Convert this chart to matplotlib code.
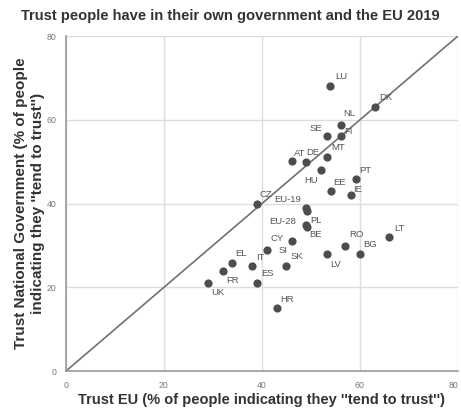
import matplotlib
matplotlib.use("Agg")
import matplotlib.pyplot as plt
import matplotlib.transforms as mtransforms

plt.rcParams['font.family'] = ['Liberation Sans', 'DejaVu Sans']

# country codes, trust in EU (x), trust in national government (y)
labels = ['LU', 'DK', 'NL', 'FI', 'SE', 'MT', 'DE', 'AT', 'HU', 'PT',
          'EE', 'IE', 'CZ', 'EU-19', 'EU-28', 'PL', 'BE', 'CY', 'SI', 'SK',
          'IT', 'EL', 'FR', 'UK', 'ES', 'HR', 'LV', 'RO', 'BG', 'LT']
trust_eu = [53.9, 63.1, 56.1, 56.1, 53.2, 53.2, 49.1, 46.1, 52.0, 59.2,
            54.1, 58.1, 39.0, 49.0, 49.2, 49.1, 49.3, 46.2, 41.1, 45.0,
            38.0, 34.0, 32.1, 29.1, 39.1, 43.1, 53.2, 57.0, 60.1, 66.0]
trust_gov = [68.0, 63.0, 58.9, 56.1, 56.1, 51.1, 50.0, 50.1, 48.1, 46.0,
             43.0, 42.0, 40.0, 39.0, 38.3, 35.0, 34.3, 31.1, 28.9, 25.1,
             25.1, 25.9, 23.9, 21.0, 21.0, 15.0, 27.9, 29.9, 27.9, 32.0]

# label placement (pixels from the dot)
offsets = [(11, 10), (11, 10), (9, 11), (8, 5), (-11, 8), (12, 10), (6, 9),
           (8, 8), (-10, -11), (9, 8), (9, 9), (7, 6), (9, 9), (-18, 8),
           (-24, -11), (10, 4), (8, -7), (-15, 2), (16, 0), (11, 10),
           (8, 9), (9, 9), (9, -9), (9, -9), (10, 10), (10, 9), (9, -10),
           (11, 11), (10, 10), (10, 9)]

fig = plt.figure(figsize=(4.61, 4.16), dpi=100)
ax = fig.add_axes([0.143, 0.108, 0.85, 0.805])

ax.plot([0, 80], [0, 80], color='#707070', lw=1.2, zorder=2)
ax.scatter(trust_eu, trust_gov, s=24, color='#4d4d4d', zorder=3)

for lab, x, y, off in zip(labels, trust_eu, trust_gov, offsets):
    ax.annotate(lab, (x, y), xytext=off, textcoords='offset pixels',
                ha='center', va='center', fontsize=6.8, color='#555555')

ax.set_xlim(0, 80)
ax.set_ylim(0, 80)
ax.set_xticks([0, 20, 40, 60, 80])
ax.set_yticks([0, 20, 40, 60, 80])
ax.grid(True, color='#dddddd', lw=1)
ax.set_axisbelow(True)
for s in ['top', 'right']:
    ax.spines[s].set_visible(False)
for s in ['left', 'bottom']:
    ax.spines[s].set_color('#999999')
    ax.spines[s].set_linewidth(1.2)
ax.tick_params(length=0, labelsize=6.3, colors='#777777', pad=7)

# keep the last x tick label inside the picture
last = ax.get_xticklabels()[-1]
last.set_transform(last.get_transform() +
                   mtransforms.ScaledTranslation(-4 / 100, 0, fig.dpi_scale_trans))

fig.text(0.5, 1 - 16 / 416, 'Trust people have in their own government and the EU 2019',
         ha='center', va='center', fontsize=10.6, fontweight='bold', color='#333333')
ax.set_xlabel("Trust EU (% of people indicating they ''tend to trust'')",
              fontsize=10.5, fontweight='bold', color='#333333', labelpad=2.5)
ax.set_ylabel("Trust National Government (% of people\nindicating they ''tend to trust'')",
              fontsize=11.0, fontweight='bold', color='#333333', labelpad=1,
              linespacing=1.3)

fig.savefig('out.png', dpi=100)
